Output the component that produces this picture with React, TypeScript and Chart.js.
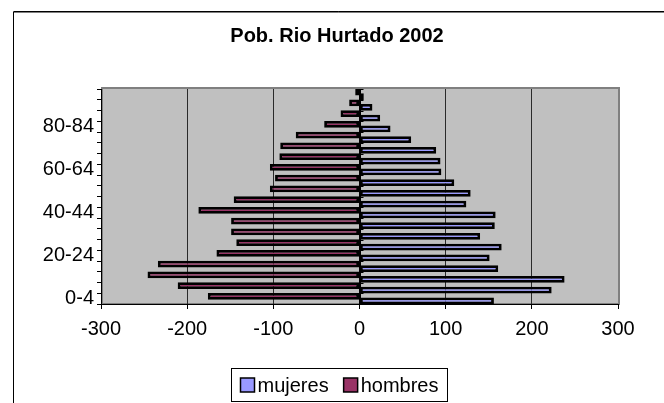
import React, { useEffect, useRef } from "react";
import { Chart, registerables } from "chart.js";

Chart.register(...registerables);

const categories = [
  "0-4", "5-9", "10-14", "15-19", "20-24", "25-29", "30-34", "35-39", "40-44", "45-49",
  "50-54", "55-59", "60-64", "65-69", "70-74", "75-79", "80-84", "85-89", "90-94", "95-99",
];
const mujeres = [156, 223, 238, 161, 151, 165, 140, 157, 158, 124, 129, 110, 95, 94, 89, 60, 36, 24, 15, 5];
const hombres = [-176, -211, -246, -234, -166, -143, -149, -149, -187, -146, -104, -98, -104, -93, -92, -74, -41, -22, -12, -5];
const xTicks = [-300, -200, -100, 0, 100, 200, 300];
const title = "Pob. Rio Hurtado 2002";

const FONT = "'Liberation Sans', Arial, sans-serif";

const framePlugin = {
  id: "frame",
  beforeDraw(chart: any) {
    const { ctx, chartArea: a } = chart;
    ctx.save();
    ctx.fillStyle = "#ffffff";
    ctx.fillRect(0, 0, chart.width, chart.height);
    // outer border
    ctx.strokeStyle = "#000000";
    ctx.lineWidth = 1;
    ctx.beginPath();
    ctx.moveTo(13.5, chart.height);
    ctx.lineTo(13.5, 12);
    ctx.lineTo(chart.width, 12);
    ctx.stroke();
    ctx.beginPath();
    ctx.moveTo(13.5, 11.5);
    ctx.lineTo(chart.width, 11.5);
    ctx.stroke();
    // plot background
    ctx.fillStyle = "#C0C0C0";
    ctx.fillRect(a.left, a.top, a.right - a.left, a.bottom - a.top);
    ctx.strokeStyle = "#808080";
    ctx.lineWidth = 2;
    ctx.strokeRect(a.left + 1, a.top - 1, a.right - a.left, a.bottom - a.top + 1);
    ctx.restore();
  },
  afterDatasetsDraw(chart: any) {
    const { ctx, chartArea: a, scales } = chart;
    const x0 = Math.round(scales.x.getPixelForValue(0)) + 0.5;
    ctx.save();
    ctx.strokeStyle = "#000000";
    ctx.lineWidth = 1;
    ctx.beginPath();
    ctx.moveTo(x0, a.top);
    ctx.lineTo(x0, a.bottom);
    const n = categories.length;
    const h = (a.bottom - a.top) / n;
    for (let i = 0; i <= n; i++) {
      const y = Math.round(a.top + i * h) + 0.5;
      ctx.moveTo(x0 - 3, y);
      ctx.lineTo(x0 + 3, y);
    }
    ctx.stroke();
    ctx.restore();
  },
  afterDraw(chart: any) {
    const { ctx } = chart;
    const ds = chart.data.datasets;
    ctx.save();
    ctx.font = "20px " + FONT;
    const sq = 14;
    const gapSq = 3;
    const gapItem = 15;
    const pad = 9;
    const widths = ds.map((d: any) => sq + gapSq + ctx.measureText(d.label).width);
    const total = Math.round(widths.reduce((s: number, w: number) => s + w, 0) + gapItem * (ds.length - 1) + pad * 2);
    const cx = 339;
    const boxTop = 368;
    const boxH = 33;
    const left = Math.round(cx - total / 2) + 0.5;
    ctx.fillStyle = "#ffffff";
    ctx.fillRect(left, boxTop + 0.5, total, boxH);
    ctx.strokeStyle = "#000000";
    ctx.lineWidth = 1;
    ctx.strokeRect(left, boxTop + 0.5, total, boxH);
    let x = left + pad;
    const cy = boxTop + boxH / 2 + 0.5;
    ds.forEach((d: any, i: number) => {
      ctx.fillStyle = d.backgroundColor;
      ctx.fillRect(x, cy - sq / 2, sq, sq);
      ctx.lineWidth = 1.5;
      ctx.strokeStyle = "#000000";
      ctx.strokeRect(x, cy - sq / 2, sq, sq);
      ctx.fillStyle = "#000000";
      ctx.textBaseline = "middle";
      ctx.textAlign = "left";
      ctx.fillText(d.label, x + sq + gapSq, cy + 1);
      x += widths[i] + gapItem;
    });
    ctx.restore();
  },
};

export default function App() {
  const ref = useRef<HTMLCanvasElement | null>(null);

  useEffect(() => {
    if (!ref.current) return;
    const chart = new Chart(ref.current, {
      type: "bar",
      data: {
        labels: categories,
        datasets: [
          {
            label: "mujeres",
            data: mujeres,
            backgroundColor: "#9999FF",
            borderColor: "#000000",
            borderWidth: 2.8,
            borderSkipped: false,
            order: 1,
            barPercentage: 1.55,
            categoryPercentage: 0.82,
          },
          {
            label: "hombres",
            data: hombres,
            backgroundColor: "#993366",
            borderColor: "#000000",
            borderWidth: 2.8,
            borderSkipped: false,
            order: 0,
            barPercentage: 1.55,
            categoryPercentage: 0.82,
          },
        ],
      },
      options: {
        indexAxis: "y",
        animation: false,
        responsive: true,
        maintainAspectRatio: false,
        devicePixelRatio: 1,
        layout: { padding: { left: 10, right: 0, top: 0, bottom: 0 } },
        plugins: {
          legend: { display: false },
          tooltip: { enabled: false },
          title: {
            display: true,
            text: title,
            color: "#000000",
            font: { family: FONT, size: 20, weight: "bold", lineHeight: 1.2 },
            padding: { top: 24, bottom: 41 },
          },
        },
        scales: {
          x: {
            type: "linear",
            min: -300,
            max: 300,
            afterFit: (s: any) => {
              s.height = 99;
            },
            afterBuildTicks: (s: any) => {
              s.ticks = xTicks.map((v) => ({ value: v }));
            },
            ticks: {
              color: "#000000",
              font: { family: FONT, size: 20 },
              padding: 8,
              maxRotation: 0,
              callback: (v: any) => String(v),
            },
            grid: {
              color: (c: any) => {
                const v = c.tick ? c.tick.value : null;
                if (v === -300 || v === 300) return "rgba(0,0,0,0)";
                if (v === 0) return "#000000";
                return "#2a2a2a";
              },
              tickColor: "#000000",
              tickLength: 5,
              lineWidth: 1,
            },
            border: { display: true, color: "#000000", width: 1 },
          },
          y: {
            type: "category",
            reverse: true,
            afterFit: (s: any) => {
              s.width = 91;
            },
            ticks: {
              autoSkip: false,
              color: "#000000",
              font: { family: FONT, size: 20 },
              padding: 3,
              callback: (_v: any, i: number) => (i % 4 === 0 ? categories[i] : ""),
            },
            grid: {
              offset: true,
              drawOnChartArea: false,
              drawTicks: true,
              tickLength: 4,
              tickColor: "#000000",
            },
            border: { display: true, color: "#000000", width: 1 },
          },
          yRight: {
            type: "linear",
            position: "right",
            display: true,
            grid: { display: false, drawTicks: false },
            ticks: { display: false },
            border: { display: false },
            afterFit: (s: any) => {
              s.width = 46;
            },
          },
        },
      },
      plugins: [framePlugin],
    });
    return () => chart.destroy();
  }, []);

  return (
    <div style={{ position: "absolute", left: 0, top: 0, width: 664, height: 403 }}>
      <canvas ref={ref} />
    </div>
  );
}
